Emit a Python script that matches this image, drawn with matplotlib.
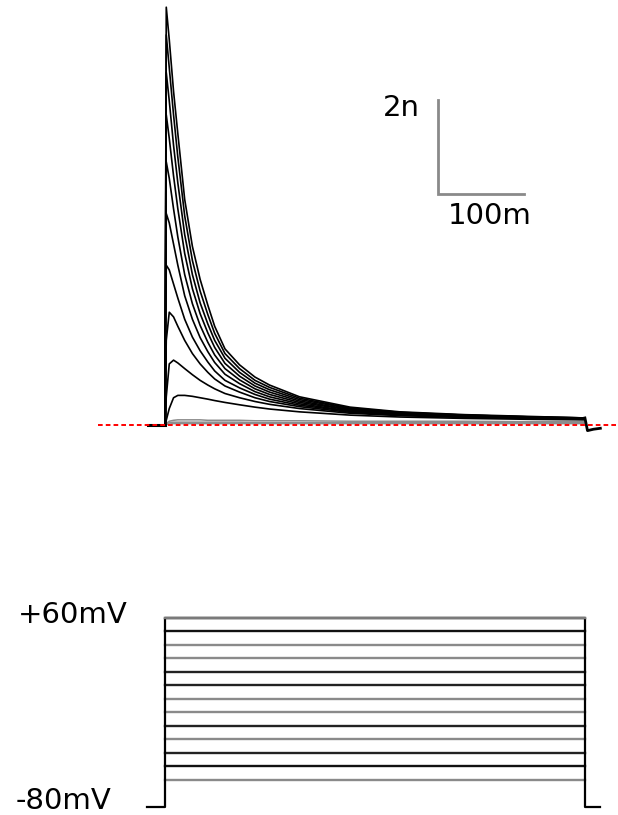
import matplotlib
matplotlib.use("Agg")
import matplotlib.pyplot as plt

t_ms = [0, 1.5, 5, 10, 15, 23, 32, 41, 50, 58, 70, 87, 105, 122, 157, 216, 274, 350, 430, 490]

# current traces (nA), one per voltage step
i_p60 = [0, 8.89, 8.2, 7.1, 6.2, 4.8, 3.8, 3.1, 2.55, 2.1, 1.62, 1.28, 1.02, 0.85, 0.60, 0.38, 0.28, 0.22, 0.18, 0.15]
i_p50 = [0, 8.3, 7.6, 6.6, 5.7, 4.45, 3.5, 2.85, 2.35, 1.95, 1.52, 1.2, 0.95, 0.80, 0.57, 0.36, 0.27, 0.21, 0.17, 0.15]
i_p40 = [0, 7.5, 6.9, 5.95, 5.15, 4.05, 3.2, 2.6, 2.15, 1.8, 1.42, 1.12, 0.89, 0.75, 0.54, 0.35, 0.26, 0.21, 0.17, 0.15]
i_p30 = [0, 6.6, 6.1, 5.3, 4.6, 3.65, 2.9, 2.37, 1.96, 1.65, 1.31, 1.04, 0.83, 0.70, 0.51, 0.33, 0.25, 0.2, 0.16, 0.14]
i_p20 = [0, 5.6, 5.25, 4.6, 4.0, 3.2, 2.58, 2.12, 1.76, 1.49, 1.2, 0.96, 0.77, 0.65, 0.48, 0.32, 0.24, 0.19, 0.16, 0.14]
i_p10 = [0, 4.5, 4.3, 3.85, 3.4, 2.75, 2.25, 1.86, 1.56, 1.33, 1.08, 0.88, 0.71, 0.60, 0.45, 0.30, 0.23, 0.19, 0.15, 0.14]
i_0 = [0, 3.4, 3.3, 3.0, 2.7, 2.25, 1.87, 1.58, 1.34, 1.15, 0.95, 0.79, 0.65, 0.55, 0.42, 0.29, 0.22, 0.18, 0.15, 0.13]
i_m10 = [0, 1.8, 2.4, 2.3, 2.1, 1.8, 1.52, 1.3, 1.12, 0.98, 0.83, 0.70, 0.58, 0.50, 0.39, 0.27, 0.21, 0.17, 0.14, 0.13]
i_m20 = [0, 0.6, 1.3, 1.38, 1.32, 1.2, 1.07, 0.95, 0.85, 0.77, 0.67, 0.58, 0.50, 0.44, 0.35, 0.25, 0.2, 0.16, 0.14, 0.12]
i_m30 = [0, 0.1, 0.35, 0.58, 0.63, 0.63, 0.61, 0.58, 0.55, 0.52, 0.48, 0.43, 0.38, 0.34, 0.28, 0.21, 0.17, 0.14, 0.12, 0.11]
i_m40 = [0, 0.03, 0.08, 0.1, 0.11, 0.11, 0.11, 0.11, 0.1, 0.1, 0.1, 0.1, 0.09, 0.09, 0.09, 0.08, 0.08, 0.08, 0.07, 0.07]
i_m50 = [0, 0.02, 0.05, 0.06, 0.06, 0.06, 0.06, 0.06, 0.06, 0.06, 0.06, 0.06, 0.05, 0.05, 0.05, 0.05, 0.05, 0.05, 0.05, 0.05]
i_m60 = [0, 0.01, 0.02, 0.03, 0.03, 0.03, 0.03, 0.03, 0.03, 0.03, 0.03, 0.03, 0.03, 0.03, 0.03, 0.03, 0.03, 0.03, 0.03, 0.03]

black_traces = [i_p60, i_p50, i_p40, i_p30, i_p20, i_p10, i_0, i_m10, i_m20, i_m30]
gray_traces = [i_m40, i_m50, i_m60]

# holding segment before the step and tail after it
pre_t = [-20, 0]
pre_nA = [0, 0]
tail_t = [490, 493, 500, 508]
tail_nA = [0.15, -0.12, -0.09, -0.07]

# voltage protocol
hold_mV = -80
step_mV = [60, 50, 40, 30, 20, 10, 0, -10, -20, -30, -40, -50, -60]
step_color = ['#7a7a7a', '#111111', '#8a8a8a', '#8a8a8a', '#222222', '#222222', '#8a8a8a',
              '#8a8a8a', '#222222', '#8a8a8a', '#222222', '#111111', '#8a8a8a']
step_len = 490
pulse_t = [-21, 0, 0, step_len, step_len, 508]

fig = plt.figure(figsize=(6.18, 8.15), dpi=100)

# current panel
ax1 = fig.add_axes([0, 1 - 450 / 815, 1, 450 / 815])
ax1.set_xlim(-192.5, 528.6)
ax1.set_ylim(-0.532, 9.043)
ax1.axis('off')

for tr in gray_traces:
    ax1.plot(t_ms, tr, color='#8c8c8c', lw=1.1)
for tr in black_traces:
    ax1.plot(t_ms, tr, color='black', lw=1.2)
ax1.plot(pre_t, pre_nA, color='black', lw=2.2)
ax1.plot([0, 0], [0, 2.0], color='black', lw=2.0)
ax1.plot(tail_t, tail_nA, color='black', lw=2.0)

ax1.plot([-78, 530], [0, 0], color='red', lw=1.4, dashes=(2.4, 1.6), zorder=5)

# scale bar
ax1.plot([318.5, 318.5, 418.5], [6.91, 4.91, 4.91], color='#8a8a8a', lw=2.0,
         solid_joinstyle='miter')
ax1.text(297.5, 6.74, '2n', fontsize=21, ha='right', va='center')
ax1.text(330, 4.45, '100m', fontsize=21, ha='left', va='center')

# voltage panel
ax2 = fig.add_axes([0, 0, 1, 255 / 815])
ax2.set_xlim(-192.5, 528.6)
ax2.set_ylim(-86.15, 102.7)
ax2.axis('off')

for v, c in zip(step_mV, step_color):
    ax2.plot([0, step_len], [v, v], color=c, lw=1.7)
ax2.plot(pulse_t, [hold_mV, hold_mV, max(step_mV), max(step_mV), hold_mV, hold_mV],
         color='black', lw=1.6)
ax2.plot([0, step_len], [max(step_mV), max(step_mV)], color='#7a7a7a', lw=1.7)

ax2.text(-171.5, 62, '+60mV', fontsize=21, ha='left', va='center')
ax2.text(-174, -76, '-80mV', fontsize=21, ha='left', va='center')

fig.savefig('out.png', dpi=100)
